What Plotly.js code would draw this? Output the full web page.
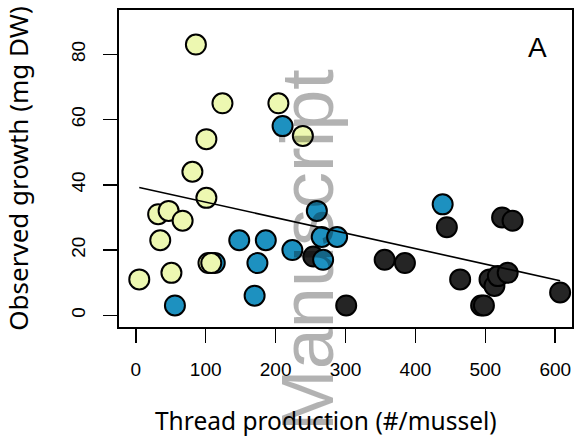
<!DOCTYPE html>
<html>
<head>
<meta charset="utf-8">
<script src="https://cdn.plot.ly/plotly-3.0.1.min.js"></script>
<style>html,body{margin:0;padding:0;background:#fff;}#chart{width:576px;height:439px;}</style>
</head>
<body>
<div id="chart"></div>
<script>
// Group 1 (light yellow)
const yellowX = [86, 124, 204, 239, 101, 81, 101, 32, 47, 67, 35, 5, 51, 104, 108];
const yellowY = [83, 65, 65, 55, 54, 44, 36, 31, 32, 29, 23, 11, 13, 16, 16];
// Group 2 (blue)
const blueX = [210, 259, 56, 148, 186, 174, 170, 224, 266, 288, 268, 439, 113];
const blueY = [58, 32, 3, 23, 23, 16, 6, 20, 24, 24, 17, 34, 16];
// Group 3 (dark)
const darkX = [254, 301, 356, 385, 445, 464, 524, 539, 506, 513, 518, 532, 494, 498, 607];
const darkY = [18, 3, 17, 16, 27, 11, 30, 29, 11, 9, 12, 13, 3, 3, 7];
// Regression line end points
const trendX = [5, 607];
const trendY = [39.2, 10.6];
// Tick values
const xTicks = [0, 100, 200, 300, 400, 500, 600];
const yTicks = [0, 20, 40, 60, 80];

const mk = (c) => ({size: 20, color: c, line: {color: '#000', width: 2}});
const data = [
  {x: darkX, y: darkY, type: 'scatter', mode: 'markers', marker: mk('#252525'), hoverinfo: 'skip'},
  {x: blueX, y: blueY, type: 'scatter', mode: 'markers', marker: mk('#1d91c0'), hoverinfo: 'skip'},
  {x: yellowX, y: yellowY, type: 'scatter', mode: 'markers', marker: mk('#edf8b1'), hoverinfo: 'skip'},
  {x: trendX, y: trendY, type: 'scatter', mode: 'lines', line: {color: '#000', width: 1.6}, hoverinfo: 'skip'}
];
const tickFont = {family: 'Liberation Sans, Arial, sans-serif', size: 19, color: '#000'};
const layout = {
  width: 576, height: 439,
  margin: {l: 119, r: 4, t: 10, b: 112, pad: 0},
  paper_bgcolor: '#fff', plot_bgcolor: '#fff',
  showlegend: false,
  xaxis: {
    range: [-24, 624], tickvals: xTicks, ticktext: xTicks.map(String),
    showgrid: false, zeroline: false, showline: true, mirror: true, linecolor: '#000', linewidth: 2,
    ticks: 'outside', ticklen: 14, tickwidth: 1.5, tickcolor: '#000', tickfont: tickFont,
    ticklabelstandoff: 10
  },
  yaxis: {
    range: [-3.6, 93.6], tickvals: yTicks, ticktext: yTicks.map(String), tickangle: -90,
    showgrid: false, zeroline: false, showline: true, mirror: true, linecolor: '#000', linewidth: 2,
    ticks: 'outside', ticklen: 14, tickwidth: 1.5, tickcolor: '#000', tickfont: tickFont,
    ticklabelstandoff: 10,
    title: {text: 'Observed growth (mg DW)', font: {family: 'Noto Sans, sans-serif', size: 26, color: '#000'}, standoff: 32}
  },
  annotations: [
    {text: 'Thread production (#/mussel)', xref: 'paper', yref: 'paper', x: (326 - 119) / 453, y: (327 - 420) / 317,
     showarrow: false, xanchor: 'center', yanchor: 'middle',
     font: {family: 'Noto Sans, sans-serif', size: 24.5, color: '#000'}},
    {text: 'A', xref: 'paper', yref: 'paper', x: (537 - 119) / 453, y: (327 - 47) / 317, showarrow: false,
     xanchor: 'center', yanchor: 'middle',
     font: {family: 'Liberation Sans, Arial, sans-serif', size: 28, color: '#000'}},
    {text: 'Manuscript', xref: 'paper', yref: 'paper', x: (307 - 119) / 453, y: (327 - 250) / 317, showarrow: false,
     xanchor: 'center', yanchor: 'middle',
     textangle: -90, font: {family: 'Liberation Sans, Arial, sans-serif', size: 74, color: 'rgba(0,0,0,0.3)'}}
  ]
};
Plotly.newPlot('chart', data, layout, {staticPlot: true, displayModeBar: false});
</script>
</body>
</html>
